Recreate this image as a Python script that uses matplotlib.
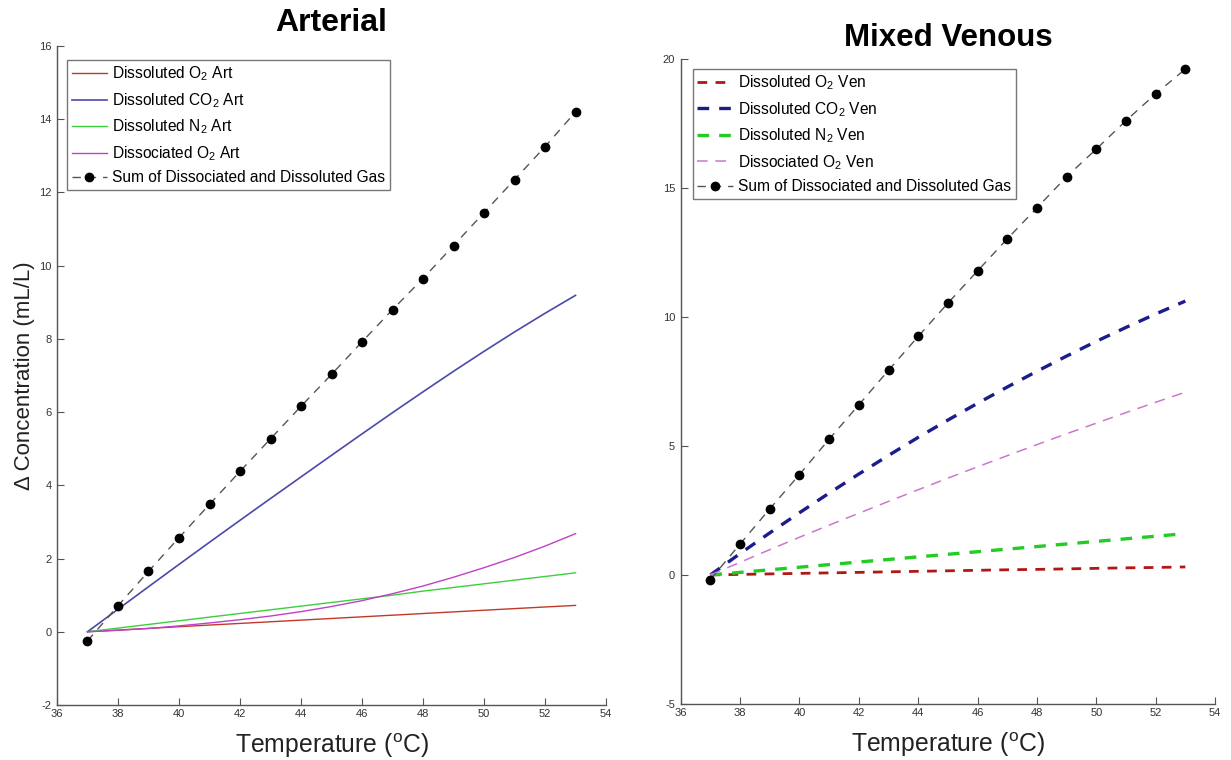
import matplotlib
matplotlib.use("Agg")
import matplotlib.pyplot as plt

temps = list(range(37, 54))

# Arterial
art_o2 = [0, 0.046, 0.092, 0.138, 0.183, 0.228, 0.273, 0.318, 0.363, 0.408, 0.453, 0.498, 0.543, 0.588, 0.633, 0.677, 0.72]
art_co2 = [0, 0.615, 1.23, 1.84, 2.445, 3.045, 3.64, 4.23, 4.82, 5.405, 5.985, 6.555, 7.115, 7.66, 8.19, 8.70, 9.19]
art_n2 = [0, 0.10, 0.20, 0.30, 0.40, 0.50, 0.60, 0.70, 0.80, 0.90, 1.00, 1.11, 1.21, 1.31, 1.41, 1.51, 1.61]
art_diss = [0, 0.04, 0.09, 0.16, 0.24, 0.33, 0.43, 0.55, 0.69, 0.85, 1.04, 1.25, 1.49, 1.75, 2.03, 2.34, 2.68]
art_sum = [-0.25, 0.71, 1.65, 2.57, 3.48, 4.38, 5.27, 6.16, 7.03, 7.92, 8.80, 9.65, 10.55, 11.45, 12.35, 13.25, 14.20]

# Mixed venous
ven_o2 = [0, 0.02, 0.04, 0.06, 0.08, 0.10, 0.12, 0.14, 0.16, 0.18, 0.20, 0.215, 0.235, 0.255, 0.275, 0.29, 0.31]
ven_co2 = [0, 0.83, 1.63, 2.41, 3.17, 3.91, 4.63, 5.33, 6.00, 6.65, 7.28, 7.89, 8.48, 9.05, 9.59, 10.11, 10.61]
ven_n2 = [0, 0.10, 0.20, 0.30, 0.40, 0.50, 0.60, 0.70, 0.80, 0.90, 1.00, 1.10, 1.20, 1.30, 1.40, 1.50, 1.60]
ven_diss = [0, 0.49, 0.98, 1.46, 1.93, 2.39, 2.85, 3.30, 3.75, 4.19, 4.62, 5.05, 5.47, 5.88, 6.29, 6.69, 7.08]
ven_sum = [-0.18, 1.20, 2.56, 3.89, 5.26, 6.59, 7.93, 9.24, 10.53, 11.78, 13.02, 14.22, 15.43, 16.50, 17.60, 18.64, 19.60]

art_labels = ["Dissoluted O$_2$ Art", "Dissoluted CO$_2$ Art", "Dissoluted N$_2$ Art",
              "Dissociated O$_2$ Art", "Sum of Dissociated and Dissoluted Gas"]
ven_labels = ["Dissoluted O$_2$ Ven", "Dissoluted CO$_2$ Ven", "Dissoluted N$_2$ Ven",
              "Dissociated O$_2$ Ven", "Sum of Dissociated and Dissoluted Gas"]

x_ticks = list(range(36, 55, 2))
art_yticks = list(range(-2, 17, 2))
ven_yticks = list(range(-5, 21, 5))

plt.rcParams['font.family'] = ['Liberation Sans', 'DejaVu Sans']
plt.rcParams['mathtext.fontset'] = 'custom'
plt.rcParams['mathtext.rm'] = 'Liberation Sans'
plt.rcParams['mathtext.it'] = 'Liberation Sans'
plt.rcParams['axes.unicode_minus'] = False

fig = plt.figure(figsize=(12.31, 7.6), dpi=100)
ax1 = fig.add_axes([0.0463, 0.0724, 0.446, 0.867])
ax2 = fig.add_axes([0.553, 0.0737, 0.434, 0.849])

# Arterial
ax1.plot(temps, art_o2, color='#c0392b', lw=1.0, label=art_labels[0])
ax1.plot(temps, art_co2, color='#4a4aa8', lw=1.2, label=art_labels[1])
ax1.plot(temps, art_n2, color='#3ccf3c', lw=1.0, label=art_labels[2])
ax1.plot(temps, art_diss, color='#c040c8', lw=1.0, label=art_labels[3])
ax1.plot(temps, art_sum, color='#555555', lw=1.0, ls=(0, (6, 5)), marker='o',
         markersize=6, markerfacecolor='black', markeredgecolor='black', label=art_labels[4])

# Venous
ax2.plot(temps, ven_o2, color='#b01818', lw=2.0, ls=(0, (3.5, 3)), label=ven_labels[0])
ax2.plot(temps, ven_co2, color='#1c1c8c', lw=2.4, ls=(0, (3.5, 3)), label=ven_labels[1])
ax2.plot(temps, ven_n2, color='#22cc22', lw=2.4, ls=(0, (3.5, 3)), label=ven_labels[2])
ax2.plot(temps, ven_diss, color='#cc77cc', lw=1.1, ls=(0, (7, 5)), label=ven_labels[3])
ax2.plot(temps, ven_sum, color='#555555', lw=1.0, ls=(0, (6, 5)), marker='o',
         markersize=6, markerfacecolor='black', markeredgecolor='black', label=ven_labels[4])

settings = ((ax1, art_yticks, "Arterial", 23, 11, (0.018, 0.979)),
            (ax2, ven_yticks, "Mixed Venous", 22.5, 9, (0.0225, 0.9845)))
for ax, yt, title, tsize, tpad, anchor in settings:
    ax.set_xlim(36, 54)
    ax.set_ylim(yt[0], yt[-1])
    ax.set_xticks(x_ticks)
    ax.set_yticks(yt)
    for s in ('top', 'right'):
        ax.spines[s].set_visible(False)
    for s in ('left', 'bottom'):
        ax.spines[s].set_color('#555555')
        ax.spines[s].set_linewidth(1.0)
    ax.tick_params(axis='both', labelsize=8, colors='#555555', labelcolor='#333333', length=5, width=0.8)
    ax.tick_params(axis='x', direction='in', pad=3)
    ax.set_xlabel("Temperature ($^{\\mathrm{o}}$C)", fontsize=17.8, color='#222222', labelpad=9)
    ax.set_title(title, fontsize=tsize, fontweight='bold', pad=tpad)
    leg = ax.legend(loc='upper left', bbox_to_anchor=anchor, fontsize=11.2, frameon=True,
                    fancybox=False, edgecolor='#555555', handlelength=2.3, handletextpad=0.3,
                    labelspacing=0.5, borderpad=0.3, borderaxespad=0.0)
    leg.get_frame().set_linewidth(1.0)

ax1.tick_params(axis='y', direction='in', pad=4)
ax2.tick_params(axis='y', direction='in', pad=4)
ax1.set_ylabel("\u0394 Concentration (mL/L)", fontsize=16, color='#222222')
ax1.yaxis.set_label_coords(-0.040, 0.5)

fig.savefig("out.png", dpi=100, facecolor='white')
